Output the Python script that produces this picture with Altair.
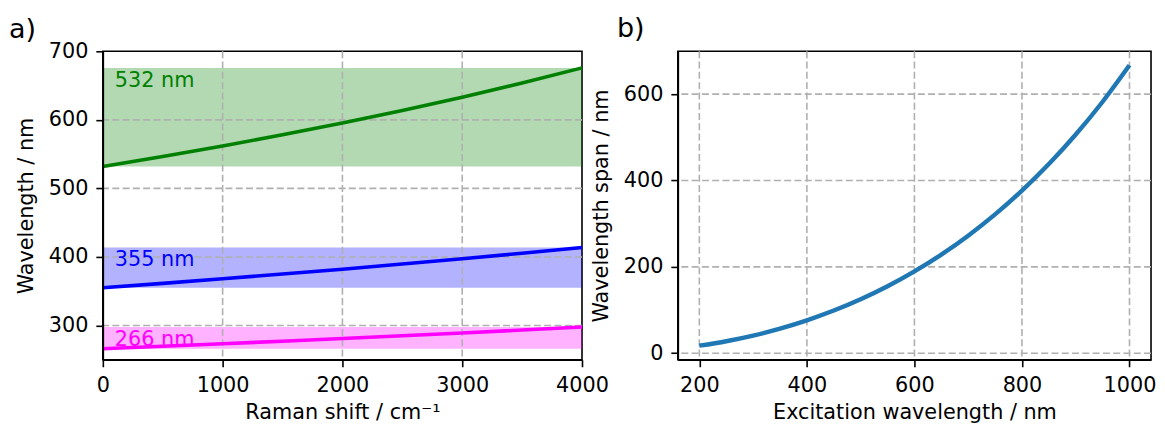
import altair as alt
import pandas as pd

FONT = "DejaVu Sans"
FS = 20.8

# ---- panel a data ----
shift = [0, 500, 1000, 1500, 2000, 2500, 3000, 3500, 4000]
wl_532 = [532.0, 546.5, 561.9, 578.1, 595.3, 613.6, 633.0, 653.7, 675.8]
wl_355 = [355.0, 361.4, 368.1, 375.0, 382.1, 389.6, 397.3, 405.4, 413.8]
wl_266 = [266.0, 269.6, 273.3, 277.1, 281.0, 285.0, 289.1, 293.3, 297.7]

lasers = ["532 nm", "355 nm", "266 nm"]
laser_colors = ["#008000", "#0000ff", "#ff00ff"]
band_lo = [532.0, 355.0, 266.0]
band_hi = [675.8, 413.8, 297.7]
band_x0 = [0, 0, 0]
band_x1 = [4000, 4000, 4000]
label_x = [100, 100, 100]

xa_ticks = [0, 1000, 2000, 3000, 4000]
ya_ticks = [300, 400, 500, 600, 700]
xa_grid = [1000, 2000, 3000]
ya_grid = [300, 400, 500, 600]

# ---- panel b data ----
excitation = [200, 250, 300, 350, 400, 450, 500, 550, 600, 650, 700, 750, 800, 850, 900, 950, 1000]
span = [17.4, 27.8, 40.9, 57.0, 76.2, 98.8, 125.0, 155.1, 189.5, 228.4, 272.2, 321.4, 376.5, 437.9, 506.3, 582.3, 666.7]

xb_ticks = [200, 400, 600, 800, 1000]
yb_ticks = [0, 200, 400, 600]

WA, WB, H = 480, 474, 309

lines_df = pd.DataFrame({
    "shift": shift * 3,
    "wl": wl_532 + wl_355 + wl_266,
    "laser": [lasers[0]] * len(shift) + [lasers[1]] * len(shift) + [lasers[2]] * len(shift),
})
bands_df = pd.DataFrame({"laser": lasers, "lo": band_lo, "hi": band_hi,
                         "x0": band_x0, "x1": band_x1, "lx": label_x})
span_df = pd.DataFrame({"exc": excitation, "span": span})

csc = alt.Scale(domain=lasers, range=laser_colors)
grid_style = dict(color="#b0b0b0", strokeWidth=1.6, strokeDash=[7, 3.3])

# ---- panel a ----
xsc_a = alt.Scale(domain=[0, 4000], nice=False, zero=False)
ysc_a = alt.Scale(domain=[250, 700], nice=False, zero=False)
xax_a = alt.Axis(values=xa_ticks, title="Raman shift / cm⁻¹", grid=False, format="d",
                 labelPadding=9, titlePadding=7, labelFlush=False, labelOverlap=False, zindex=1)
yax_a = alt.Axis(values=ya_ticks, title="Wavelength / nm", grid=False, format="d",
                 labelPadding=8, titlePadding=12, labelFlush=False, labelOverlap=False, zindex=1)

bands = alt.Chart(bands_df).mark_rect(fillOpacity=0.3, strokeWidth=0).encode(
    x=alt.X("x0:Q", scale=xsc_a, axis=xax_a), x2="x1:Q",
    y=alt.Y("lo:Q", scale=ysc_a, axis=yax_a), y2="hi:Q",
    color=alt.Color("laser:N", scale=csc, legend=None),
)
gx_a = alt.Chart(pd.DataFrame({"v": xa_grid})).mark_rule(**grid_style).encode(
    x=alt.X("v:Q", scale=xsc_a, axis=xax_a))
gy_a = alt.Chart(pd.DataFrame({"v": ya_grid})).mark_rule(**grid_style).encode(
    y=alt.Y("v:Q", scale=ysc_a, axis=yax_a))
lines = alt.Chart(lines_df).mark_line(strokeWidth=3.6).encode(
    x=alt.X("shift:Q", scale=xsc_a, axis=xax_a),
    y=alt.Y("wl:Q", scale=ysc_a, axis=yax_a),
    color=alt.Color("laser:N", scale=csc, legend=None),
    detail="laser:N",
)
labels = alt.Chart(bands_df).mark_text(align="left", baseline="top", dy=3,
                                       fontSize=FS, font=FONT).encode(
    x=alt.X("lx:Q", scale=xsc_a, axis=xax_a),
    y=alt.Y("hi:Q", scale=ysc_a, axis=yax_a),
    text="laser:N",
    color=alt.Color("laser:N", scale=csc, legend=None),
)
panel_a = alt.layer(bands, gx_a, gy_a, lines, labels).properties(
    width=WA, height=H,
    title=alt.TitleParams("a)", anchor="start", frame="group", dx=-94, offset=-24.6,
                          baseline="alphabetic", fontSize=27, font=FONT,
                          fontWeight="normal", color="black"),
)

# ---- panel b ----
xsc_b = alt.Scale(domain=[160, 1040], nice=False, zero=False)
ysc_b = alt.Scale(domain=[-15.1, 699.1], nice=False, zero=False)
xax_b = alt.Axis(values=xb_ticks, title="Excitation wavelength / nm", grid=False, format="d",
                 labelPadding=9, titlePadding=7, labelFlush=False, labelOverlap=False, zindex=1)
yax_b = alt.Axis(values=yb_ticks, title="Wavelength span / nm", grid=False, format="d",
                 labelPadding=8, titlePadding=12, labelFlush=False, labelOverlap=False, zindex=1)

gx_b = alt.Chart(pd.DataFrame({"v": xb_ticks})).mark_rule(**grid_style).encode(
    x=alt.X("v:Q", scale=xsc_b, axis=xax_b))
gy_b = alt.Chart(pd.DataFrame({"v": yb_ticks})).mark_rule(**grid_style).encode(
    y=alt.Y("v:Q", scale=ysc_b, axis=yax_b))
curve = alt.Chart(span_df).mark_line(color="#1f77b4", strokeWidth=4.4, interpolate="monotone").encode(
    x=alt.X("exc:Q", scale=xsc_b, axis=xax_b),
    y=alt.Y("span:Q", scale=ysc_b, axis=yax_b),
)
panel_b = alt.layer(gx_b, gy_b, curve).properties(
    width=WB, height=H,
    title=alt.TitleParams("b)", anchor="start", frame="group", dx=-61, offset=-13.4,
                          baseline="alphabetic", fontSize=27, font=FONT,
                          fontWeight="normal", color="black"),
)

chart = alt.hconcat(panel_a, panel_b, spacing=96, bounds="flush").properties(
    padding={"left": 0, "top": 5, "right": 0, "bottom": 0},
).configure_view(
    stroke="black", strokeWidth=1.6,
).configure_axis(
    labelFont=FONT, titleFont=FONT, labelFontSize=FS, titleFontSize=FS,
    labelColor="black", titleColor="black", titleFontWeight="normal",
    tickColor="black", domainColor="black", tickWidth=1.6, domainWidth=1.6, tickSize=7,
)

chart.save("out.html", embed_options={"renderer": "svg", "actions": False})
